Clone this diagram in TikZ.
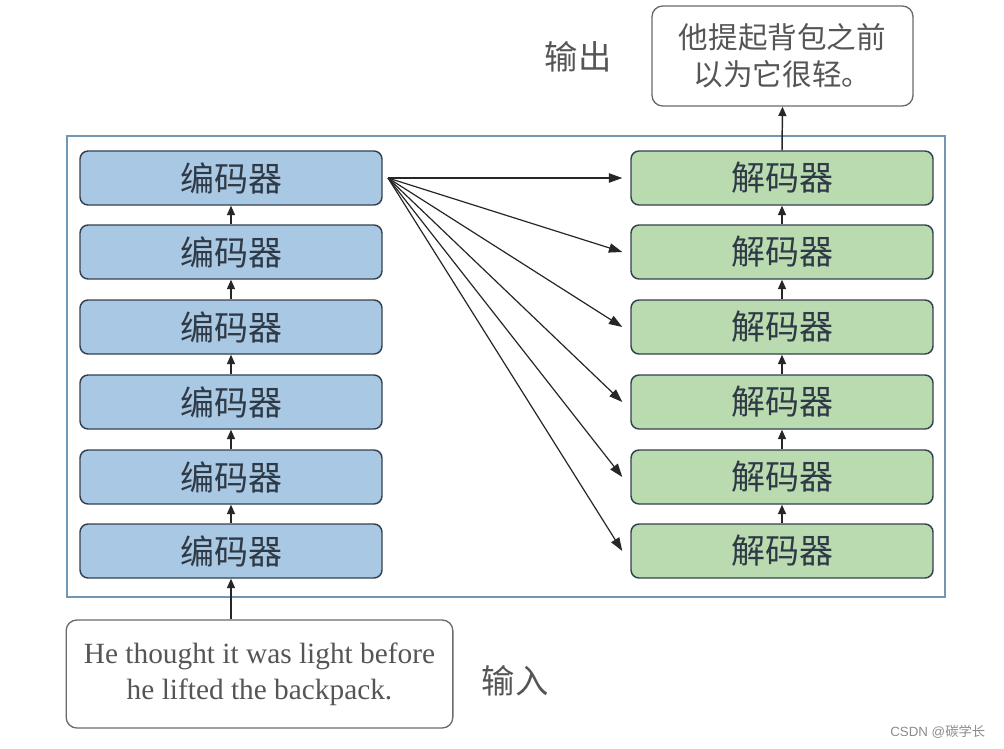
\documentclass[tikz,border=0pt]{standalone}
\usepackage{fontspec}
\setmainfont{Liberation Serif}
\newfontfamily\cjk{Noto Sans CJK SC}
\usetikzlibrary{arrows.meta}
\definecolor{encfill}{HTML}{A8C8E4}
\definecolor{decfill}{HTML}{B9DBAF}
\definecolor{boxline}{HTML}{34414E}
\definecolor{frameline}{HTML}{7396B5}
\definecolor{txtgray}{HTML}{555555}
\definecolor{grayline}{HTML}{6A6A6A}
\tikzset{
  enc/.style={draw=boxline, line width=1.1pt, fill=encfill, rounded corners=6pt,
    minimum width=226.5pt, minimum height=40.5pt, inner sep=0pt,
    font=\cjk\fontsize{25.5}{28}\selectfont, text=boxline!90!black},
  dec/.style={enc, fill=decfill},
  txtbox/.style={draw=grayline, line width=1pt, rounded corners=8pt, inner sep=0pt,
    text=txtgray, align=center},
  lbl/.style={font=\cjk\fontsize{25}{28}\selectfont, text=txtgray},
  arr/.style={-{Triangle[length=7pt,width=6pt]}, line width=1.1pt, draw=black!85},
  fanarr/.style={-{Triangle[length=10pt,width=7pt]}, line width=0.9pt, draw=black!85}
}
\begin{document}
\begin{tikzpicture}[x=0.75pt, y=-0.75pt]
\useasboundingbox (0,0) rectangle (1004,749);
% frame
\node[draw=frameline, line width=0.9pt, minimum width=658.5pt, minimum height=345.75pt, inner sep=0pt] (frame) at (506,366.5) {};
% encoders and decoders
\foreach \i/\y in {1/178,2/252,3/327,4/402,5/477,6/551}{
  \node[enc] (e\i) at (231,\y) {编码器};
  \node[dec] (d\i) at (782,\y) {解码器};
}
\foreach \i/\j in {2/1,3/2,4/3,5/4,6/5}{
  \draw[arr] (e\i.north) -- (e\j.south);
  \draw[arr] (d\i.north) -- (d\j.south);
}
% fan arrows
\coordinate (fan) at (388,178);
\foreach \i in {1,...,6}{
  \draw[fanarr] (fan) -- ([xshift=-6pt]d\i.west);
}
% output
\node[txtbox, minimum width=195.75pt, minimum height=75pt, font=\cjk\fontsize{22.2}{28}\selectfont] (out) at (782.5,56) {他提起背包之前\\以为它很轻。};
\draw[arr] (d1.north) -- (out.south);
\node[lbl] (outlbl) at (578,57) {输出};
% input
\node[txtbox, minimum width=290pt, minimum height=81pt, font=\fontsize{22}{27}\selectfont] (in) at (259.5,674) {He thought it was light before\\he lifted the backpack.};
\draw[arr] (in.north -| e6.south) -- (e6.south);
\node[lbl] (inlbl) at (515,681) {输入};
% watermark
\node[font=\fontspec{Liberation Sans}\fontsize{10}{12}\selectfont, text=black!45, anchor=east] (wm) at (990,732) {CSDN @{\cjk 碳学长}};
\end{tikzpicture}
\end{document}
